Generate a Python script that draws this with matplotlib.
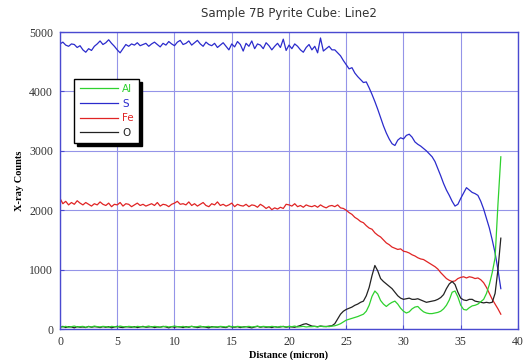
import numpy as np
from matplotlib import pyplot as plt

# X-ray counts sampled every 0.25 micron from 0 to 38.5
step = 0.25

s_counts = [
    4800, 4830, 4780, 4760, 4800, 4790, 4740, 4770,
    4700, 4660, 4720, 4690, 4760, 4800, 4850, 4790,
    4820, 4870, 4810, 4760, 4700, 4650, 4720, 4790,
    4760, 4800, 4780, 4820, 4770, 4790, 4810, 4760,
    4800, 4830, 4790, 4750, 4810, 4780, 4840, 4800,
    4770, 4830, 4860, 4790, 4810, 4850, 4780, 4820,
    4860, 4800, 4760, 4830, 4790, 4770, 4810, 4740,
    4780, 4820, 4760, 4700, 4800, 4750, 4840, 4790,
    4680, 4810, 4760, 4850, 4720, 4800, 4780, 4720,
    4820, 4770, 4700, 4760, 4810, 4740, 4880, 4690,
    4780, 4720, 4800, 4760, 4700, 4660, 4740, 4790,
    4700, 4760, 4650, 4900, 4680, 4720, 4760, 4700,
    4700, 4650, 4600, 4520, 4450, 4380, 4400, 4310,
    4250, 4200, 4150, 4160, 4060, 3950, 3830, 3700,
    3560, 3420, 3300, 3200, 3120, 3090, 3180, 3220,
    3200, 3260, 3280, 3230, 3150, 3110, 3080, 3040,
    3000, 2950, 2900, 2820, 2700, 2580, 2450, 2340,
    2250, 2150, 2070, 2100, 2200, 2290, 2380, 2340,
    2300, 2280, 2250, 2150, 2020, 1860, 1700, 1500,
    1280, 1000, 680,
]

fe_counts = [
    2200, 2110, 2150, 2090, 2130, 2100, 2160, 2120,
    2090, 2130, 2100, 2070, 2110, 2090, 2140, 2100,
    2080, 2120, 2060, 2100, 2090, 2130, 2070, 2110,
    2100, 2060, 2090, 2120, 2080, 2100, 2070, 2090,
    2110, 2080, 2130, 2070, 2100, 2090, 2060, 2100,
    2120, 2150, 2100, 2110, 2090, 2140, 2080, 2110,
    2070, 2100, 2130, 2080, 2060, 2110, 2090, 2140,
    2080, 2100, 2070, 2090, 2120, 2060, 2100, 2080,
    2070, 2100, 2060, 2090, 2080, 2050, 2100, 2070,
    2030, 2060, 2010, 2040, 2020, 2050, 2030, 2100,
    2090, 2070, 2110, 2060, 2080, 2050, 2090, 2070,
    2060, 2080, 2050, 2090, 2060, 2040, 2070, 2080,
    2060, 2090, 2040, 2030,
    2000, 1960, 1930, 1880, 1850, 1810, 1790, 1740,
    1700, 1680, 1620, 1580, 1550, 1500, 1450, 1420,
    1380, 1360, 1340, 1350, 1310, 1300, 1280, 1250,
    1230, 1200, 1180, 1170, 1140, 1110, 1080, 1050,
    1010, 950, 900, 850, 820, 800, 810, 850,
    870, 880, 860, 880, 870, 850, 860, 830,
    780, 700, 600, 500, 420, 340, 250,
]

al_counts = [
    40, 35, 45, 30, 40, 50, 35, 40,
    45, 30, 40, 35, 50, 40, 35, 45,
    40, 30, 45, 40, 35, 50, 40, 35,
    45, 40, 30, 45, 40, 35, 40, 50,
    35, 45, 40, 30, 40, 45, 35, 40,
    50, 40, 35, 45, 30, 40, 45, 35,
    40, 50, 35, 40, 45, 30, 40, 35,
    45, 40, 35, 50, 40, 35, 45, 40,
    30, 40, 45, 35, 40, 50, 35, 45,
    40, 35, 45, 40, 30, 45, 40, 35,
    45, 40, 50, 35, 40, 45, 35, 40,
    40, 45, 35, 50, 40, 45, 40, 50,
    55, 70, 90, 120, 150, 165, 180, 195,
    210, 230, 250, 300, 400, 550, 640, 590,
    480, 420, 380, 420, 450, 470, 420, 350,
    300, 270, 290, 340, 370, 380, 330, 290,
    270, 260, 260, 270, 280, 300, 340, 400,
    490, 620, 640, 540, 400, 330, 320, 360,
    390, 400, 420, 460, 500, 600, 750, 950,
    1200, 2100, 2900,
]

o_counts = [
    30, 45, 25, 40, 35, 20, 40, 30,
    35, 25, 45, 30, 40, 35, 25, 40,
    30, 40, 20, 35, 45, 30, 25, 40,
    35, 30, 40, 25, 35, 45, 30, 35,
    40, 25, 35, 30, 45, 35, 20, 40,
    30, 40, 35, 25, 40, 30, 45, 35,
    25, 35, 40, 30, 20, 40, 35, 30,
    40, 30, 25, 45, 35, 30, 40, 25,
    35, 40, 30, 20, 35, 45, 30, 40,
    30, 35, 25, 40, 30, 35, 45, 30,
    40, 35, 30, 45, 60, 80, 90, 70,
    50, 45, 40, 50, 45, 40, 50, 55,
    90, 170, 250, 300, 330, 350, 370, 400,
    420, 450, 470, 560, 700, 900, 1070, 980,
    850, 800, 760, 720, 680, 620, 560, 520,
    500, 510, 520, 500, 500, 510, 490, 470,
    450, 460, 470, 480, 500, 530, 580, 680,
    760, 800, 750, 620, 520, 490, 480, 500,
    500, 470, 460, 450, 440, 450, 440, 450,
    600, 1000, 1530,
]

series = [("S", s_counts, "#2b2bcc"), ("Fe", fe_counts, "#e02424"),
          ("O", o_counts, "#222222"), ("Al", al_counts, "#2ed12e")]

fig = plt.figure(figsize=(5.31, 3.60), dpi=100)
ax = fig.add_axes([0.113, 0.086, 0.8625, 0.825])

lines = {}
for name, vals, col in series:
    dist = step * np.arange(len(vals))
    ln, = ax.plot(dist, vals, color=col, lw=0.9, label=name)
    lines[name] = ln

ax.set_xlim(0, 40)
ax.set_ylim(0, 5000)
ax.set_xticks(range(0, 41, 5))
ax.set_yticks(range(0, 5001, 1000))
ax.grid(True, color="#9494e8", lw=0.8)
ax.set_axisbelow(True)
for sp in ax.spines.values():
    sp.set_color("#4a4ad0")
    sp.set_linewidth(1.0)
ax.tick_params(direction="in", length=3, color="#4a4ad0", labelsize=8.5,
               labelcolor="#333333", pad=5)
for lab in ax.get_xticklabels() + ax.get_yticklabels():
    lab.set_family("Liberation Serif")

ax.set_xlabel("Distance (micron)", family="Liberation Serif", fontweight="bold",
              fontsize=7.5, labelpad=2)
ax.set_ylabel("X-ray Counts", family="Liberation Serif", fontweight="bold",
              fontsize=7.5, labelpad=4)
ax.set_title("Sample 7B Pyrite Cube: Line2", fontsize=8.5, color="#333333", pad=11)

order = ["Al", "S", "Fe", "O"]
leg = ax.legend([lines[k] for k in order], order, loc="upper left",
                bbox_to_anchor=(0.02, 0.86), fancybox=False, framealpha=1,
                edgecolor="black", shadow={"color": "black", "alpha": 1},
                handlelength=3.7, fontsize=7.5, labelcolor="linecolor",
                borderpad=0.5, labelspacing=0.45, handletextpad=0.4)
leg.get_frame().set_linewidth(1.0)

fig.savefig("out.png", dpi=100)
